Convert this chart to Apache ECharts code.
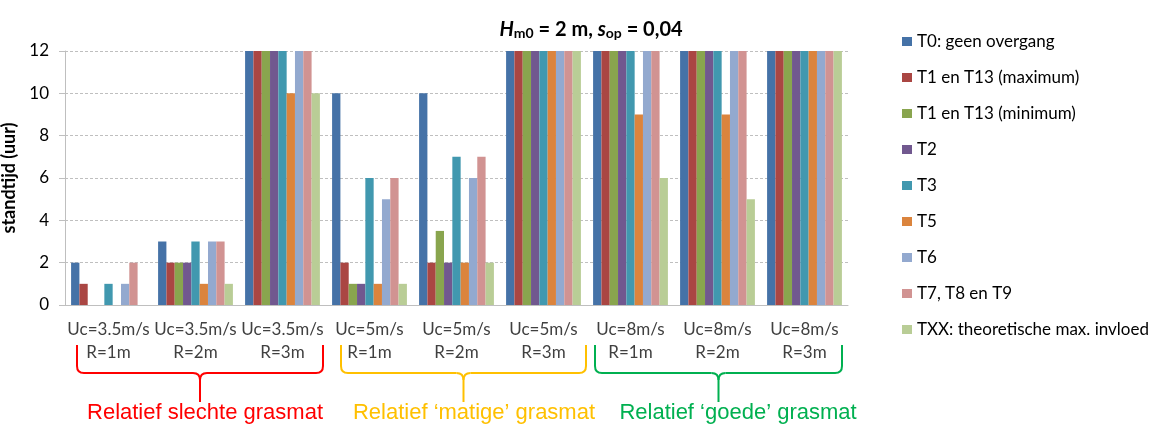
<!DOCTYPE html>
<html>
<head>
<meta charset="utf-8">
<script src="https://cdn.jsdelivr.net/npm/echarts@6/dist/echarts.min.js"></script>
<style>
  html, body { margin: 0; padding: 0; background: #fff; }
  #chart { width: 1152px; height: 426px; }
</style>
</head>
<body>
<div id="chart"></div>
<script>
// Scenario labels (flow velocity / freeboard)
const uc = ['Uc=3.5m/s', 'Uc=3.5m/s', 'Uc=3.5m/s', 'Uc=5m/s', 'Uc=5m/s', 'Uc=5m/s', 'Uc=8m/s', 'Uc=8m/s', 'Uc=8m/s'];
const rLabels = ['R=1m', 'R=2m', 'R=3m', 'R=1m', 'R=2m', 'R=3m', 'R=1m', 'R=2m', 'R=3m'];
const categories = uc.map((u, i) => u + '\n' + rLabels[i]);

// Standtijd (uur) per transition type
const seriesNames = [
  'T0: geen overgang',
  'T1 en T13 (maximum)',
  'T1 en T13 (minimum)',
  'T2',
  'T3',
  'T5',
  'T6',
  'T7, T8 en T9',
  'TXX: theoretische max. invloed'
];
const t0     = [2, 3, 12, 10, 10, 12, 12, 12, 12];
const t1max  = [1, 2, 12, 2, 2, 12, 12, 12, 12];
const t1min  = [0, 2, 12, 1, 3.5, 12, 12, 12, 12];
const t2     = [0, 2, 12, 1, 2, 12, 12, 12, 12];
const t3     = [1, 3, 12, 6, 7, 12, 12, 12, 12];
const t5     = [0, 1, 10, 1, 2, 12, 9, 9, 12];
const t6     = [1, 3, 12, 5, 6, 12, 12, 12, 12];
const t789   = [2, 3, 12, 6, 7, 12, 12, 12, 12];
const txx    = [0, 1, 10, 1, 2, 12, 6, 5, 12];
const seriesValues = [t0, t1max, t1min, t2, t3, t5, t6, t789, txx];

const yTicks = [0, 2, 4, 6, 8, 10, 12];

const colors = ['#4572A7', '#AA4643', '#89A54E', '#71588F', '#4198AF', '#DB843D', '#93A9CF', '#D19392', '#B9CD96'];

// Grass quality groups drawn as braces beneath the axis
const groups = [
  { text: 'Relatief slechte grasmat', color: '#FF0000', x1: 77, x2: 323, tx: 205 },
  { text: 'Relatief \u2018matige\u2019 grasmat', color: '#FFC000', x1: 341, x2: 586, tx: 474 },
  { text: 'Relatief \u2018goede\u2019 grasmat', color: '#00B050', x1: 595, x2: 842, tx: 738 }
];

const FONT = 'Lato, "Open Sans", sans-serif';

// Brace built from straight segments and quadratic curves
function braceElements(x1, x2, top, mid, tip, color) {
  const cx = (x1 + x2) / 2;
  const r = 7;
  const st = { stroke: color, lineWidth: 2, fill: null };
  const line = (ax, ay, bx, by) => ({ type: 'line', shape: { x1: ax, y1: ay, x2: bx, y2: by }, style: st });
  const curve = (ax, ay, qx, qy, bx, by) => ({
    type: 'bezierCurve',
    shape: { x1: ax, y1: ay, cpx1: qx, cpy1: qy, x2: bx, y2: by },
    style: st
  });
  return [
    line(x1, top, x1, mid - r),
    curve(x1, mid - r, x1, mid, x1 + r, mid),
    line(x1 + r, mid, cx - r, mid),
    curve(cx - r, mid, cx, mid, cx, mid + r),
    line(cx, mid + r, cx, tip),
    curve(cx, mid + r, cx, mid, cx + r, mid),
    line(cx + r, mid, x2 - r, mid),
    curve(x2 - r, mid, x2, mid, x2, mid - r),
    line(x2, mid - r, x2, top)
  ];
}

const graphics = [];
groups.forEach(g => {
  braceElements(g.x1, g.x2, 345, 373, 402, g.color).forEach(el => graphics.push(el));
  graphics.push({
    type: 'text',
    x: g.tx, y: 413,
    style: {
      text: g.text, fill: g.color,
      font: '22px "Liberation Sans", Arial, sans-serif',
      textAlign: 'center', textVerticalAlign: 'middle'
    }
  });
});

const chart = echarts.init(document.getElementById('chart'), null, { renderer: 'canvas' });

chart.setOption({
  animation: false,
  color: colors,
  title: {
    text: '{i|H}{sub|m0}{b| = 2 m, }{i|s}{sub|op}{b| = 0,04}',
    left: 586, top: 9, textAlign: 'center',
    textStyle: {
      rich: {
        i: { fontFamily: FONT, fontSize: 20, fontWeight: 'bold', fontStyle: 'italic', color: '#000', verticalAlign: 'bottom', lineHeight: 26 },
        b: { fontFamily: FONT, fontSize: 20, fontWeight: 'bold', color: '#000', verticalAlign: 'bottom', lineHeight: 26 },
        sub: { fontFamily: FONT, fontSize: 14, fontWeight: 'bold', color: '#000', verticalAlign: 'bottom', lineHeight: 19 }
      }
    }
  },
  legend: {
    orient: 'vertical',
    left: 897, top: 28,
    itemWidth: 10, itemHeight: 9,
    itemGap: 19,
    icon: 'rect',
    textStyle: { fontFamily: FONT, fontSize: 17, color: '#000' },
    data: seriesNames
  },
  grid: { left: 65, right: 304, top: 51, bottom: 121, containLabel: false, outerBoundsMode: 'none' },
  xAxis: {
    type: 'category',
    data: categories,
    axisLine: { lineStyle: { color: '#BFBFBF' } },
    axisTick: { length: 5, lineStyle: { color: '#BFBFBF' } },
    axisLabel: {
      interval: 0, margin: 13,
      fontFamily: FONT, fontSize: 17, color: '#404040', lineHeight: 23
    }
  },
  yAxis: {
    type: 'value',
    min: 0, max: 12, interval: 2,
    name: 'standtijd (uur)',
    nameLocation: 'middle',
    nameGap: 35,
    nameRotate: 90,
    nameTextStyle: { fontFamily: FONT, fontSize: 18, fontWeight: 'bold', color: '#000' },
    axisLine: { show: true, lineStyle: { color: '#BFBFBF' } },
    axisTick: { show: true, length: 6, lineStyle: { color: '#BFBFBF' } },
    axisLabel: {
      fontFamily: FONT, fontSize: 17, color: '#000', margin: 16,
      formatter: v => (yTicks.indexOf(v) >= 0 ? String(v) : '')
    },
    splitLine: { lineStyle: { color: '#BFBFBF', type: [3, 2] } }
  },
  series: seriesNames.map((name, i) => ({
    name: name,
    type: 'bar',
    data: seriesValues[i],
    barGap: '0%',
    barCategoryGap: '14%',
    itemStyle: { color: colors[i] }
  })),
  graphic: graphics
});
</script>
</body>
</html>
